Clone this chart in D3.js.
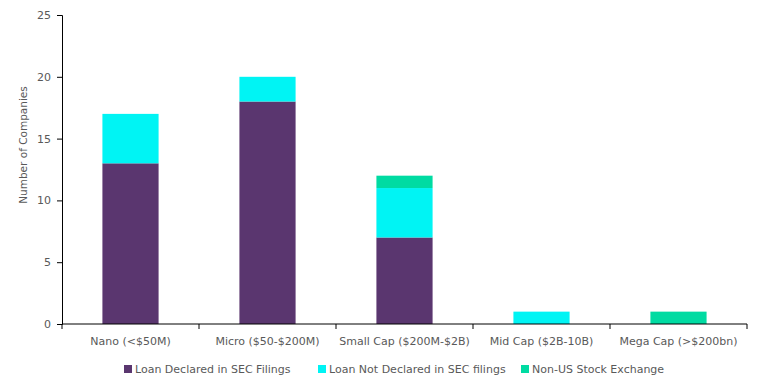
<!DOCTYPE html>
<html>
<head>
<meta charset="utf-8">
<script src="https://cdn.jsdelivr.net/npm/d3@7"></script>
<style>
  body { margin: 0; background: #fff; }
  svg text { font-family: "DejaVu Sans", Verdana, sans-serif; fill: #595959; }
</style>
</head>
<body>
<svg id="chart" width="761" height="390"></svg>
<script>
// values
const categories = ['Nano (<$50M)', 'Micro ($50-$200M)', 'Small Cap ($200M-$2B)', 'Mid Cap ($2B-10B)', 'Mega Cap (>$200bn)'];
const seriesNames = ['Loan Declared in SEC Filings', 'Loan Not Declared in SEC filings', 'Non-US Stock Exchange'];
const declared = [13, 18, 7, 0, 0];
const notDeclared = [4, 2, 4, 1, 0];
const nonUS = [0, 0, 1, 0, 1];
const yTicks = [0, 5, 10, 15, 20, 25];
const colors = ['#5a366f', '#00f4f4', '#00dba2'];

const rows = categories.map((c, i) => ({ cat: c, s0: declared[i], s1: notDeclared[i], s2: nonUS[i] }));
const stack = d3.stack().keys(['s0', 's1', 's2'])(rows);

const svg = d3.select('#chart');
const m = { left: 62, right: 14, top: 15, bottom: 66 };
const W = 761, H = 390;

const x = d3.scaleBand().domain(categories).range([m.left, W - m.right]).paddingInner(0.59).paddingOuter(0.295);
const y = d3.scaleLinear().domain([0, 25]).range([H - m.bottom, m.top]);

// bars
svg.append('g').selectAll('g').data(stack).join('g')
  .attr('fill', (d, i) => colors[i])
  .selectAll('rect').data(d => d).join('rect')
  .attr('x', d => x(d.data.cat))
  .attr('width', x.bandwidth())
  .attr('y', d => y(d[1]))
  .attr('height', d => y(d[0]) - y(d[1]));

// y axis
const yAxis = svg.append('g').attr('transform', `translate(${m.left},0)`)
  .call(d3.axisLeft(y).tickValues(yTicks).tickSize(5).tickPadding(6));
yAxis.selectAll('text').style('font-size', '11px');

// x axis with ticks at band edges
const xAxis = svg.append('g').attr('transform', `translate(0,${y(0)})`);
xAxis.append('line').attr('x1', m.left).attr('x2', W - m.right).attr('stroke', '#000');
const edges = d3.range(categories.length + 1).map(i => m.left + i * (W - m.left - m.right) / categories.length);
xAxis.selectAll('line.t').data(edges).join('line').attr('class', 't')
  .attr('x1', d => d).attr('x2', d => d).attr('y1', 0).attr('y2', 5).attr('stroke', '#000');
xAxis.selectAll('text').data(categories).join('text')
  .attr('x', d => x(d) + x.bandwidth() / 2).attr('y', 21)
  .attr('text-anchor', 'middle').style('font-size', '11px').text(d => d);

svg.selectAll('.domain, .tick line').attr('stroke', '#000');

// y title
svg.append('text').attr('transform', 'translate(27,145) rotate(-90)')
  .attr('text-anchor', 'middle').style('font-size', '10.5px').text('Number of Companies');

// legend
const legendX = [124, 318, 521];
const lg = svg.append('g').selectAll('g').data(seriesNames).join('g')
  .attr('transform', (d, i) => `translate(${legendX[i]},365)`);
lg.append('rect').attr('width', 8).attr('height', 8).attr('fill', (d, i) => colors[i]);
lg.append('text').attr('x', 11).attr('y', 8).style('font-size', '11px').text(d => d);
</script>
</body>
</html>
